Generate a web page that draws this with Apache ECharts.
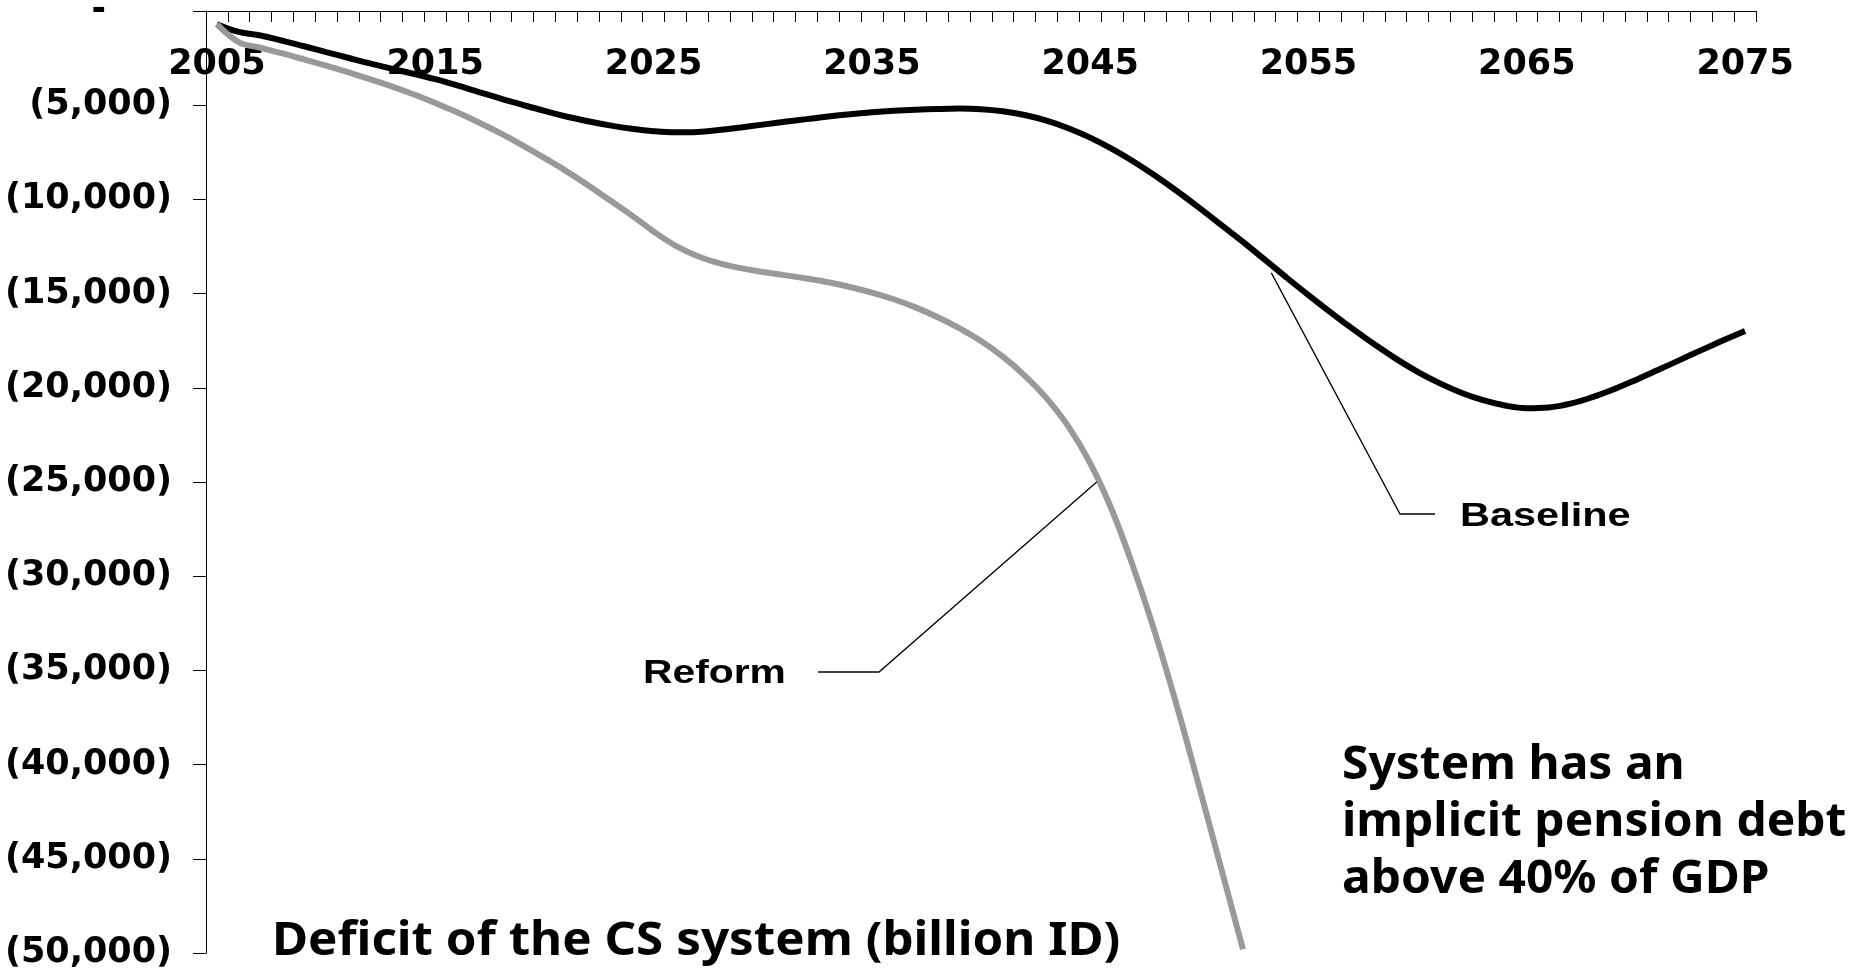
<!DOCTYPE html>
<html>
<head>
<meta charset="utf-8">
<title>Deficit of the CS system</title>
<script src="https://cdn.jsdelivr.net/npm/echarts@6/dist/echarts.min.js"></script>
<style>
  html, body { margin: 0; padding: 0; background: #ffffff; }
  #chart { width: 1857px; height: 969px; }
</style>
</head>
<body>
<div id="chart"></div>
<script>
// Projection years (one category per year)
const years = [
  '2005','2006','2007','2008','2009','2010','2011','2012','2013','2014',
  '2015','2016','2017','2018','2019','2020','2021','2022','2023','2024',
  '2025','2026','2027','2028','2029','2030','2031','2032','2033','2034',
  '2035','2036','2037','2038','2039','2040','2041','2042','2043','2044',
  '2045','2046','2047','2048','2049','2050','2051','2052','2053','2054',
  '2055','2056','2057','2058','2059','2060','2061','2062','2063','2064',
  '2065','2066','2067','2068','2069','2070','2071','2072','2073','2074',
  '2075'
];

// Deficit, billion ID — baseline scenario, 2005–2075
const baseline = [
  -700, -1110, -1300, -1580, -1870, -2180, -2480, -2780, -3060, -3330,
  -3620, -3950, -4300, -4650, -4980, -5300, -5600, -5850, -6070, -6250,
  -6380, -6440, -6420, -6320, -6180, -6030, -5880, -5740, -5600, -5480,
  -5380, -5300, -5240, -5200, -5180, -5210, -5320, -5520, -5820, -6220,
  -6720, -7320, -8000, -8760, -9580, -10450, -11350, -12250, -13200, -14150,
  -15080, -15980, -16850, -17680, -18450, -19150, -19750, -20260, -20660, -20940,
  -21080, -21040, -20840, -20500, -20070, -19580, -19060, -18530, -18000, -17480,
  -16980
];

// Deficit, billion ID — reform scenario, 2005–2052
const reform = [
  -700, -1650, -1950, -2250, -2570, -2900, -3250, -3620, -4000, -4420,
  -4880, -5380, -5920, -6500, -7130, -7800, -8500, -9250, -10050, -10850,
  -11700, -12450, -13000, -13380, -13650, -13850, -14020, -14200, -14400, -14650,
  -14950, -15300, -15730, -16240, -16830, -17520, -18350, -19350, -20550, -22050,
  -24000, -26500, -29600, -33100, -37000, -41200, -45500, -49800
];

// Value-axis tick labels, top (0) to bottom (-50,000)
const yTickLabels = [
  '-', '(5,000)', '(10,000)', '(15,000)', '(20,000)', '(25,000)',
  '(30,000)', '(35,000)', '(40,000)', '(45,000)', '(50,000)'
];

// Points on each curve where the callout leaders attach: [year, value]
const reformCallout = [2045.3, -25000];
const baselineCallout = [2053.3, -13900];

const chart = echarts.init(document.getElementById('chart'), null, { renderer: 'canvas' });

const axisFont = { fontFamily: 'DejaVu Sans', fontWeight: 'bold', fontSize: 35, color: '#000000' };

chart.setOption({
  animation: false,
  backgroundColor: '#ffffff',
  grid: { left: 206, right: 101, top: 11, bottom: 16, containLabel: false, outerBoundsMode: 'none' },
  xAxis: {
    type: 'category',
    data: years,
    position: 'top',
    boundaryGap: true,
    axisLine: { show: true, lineStyle: { color: '#000000', width: 1 } },
    axisTick: { show: true, inside: true, length: 11, interval: 0, lineStyle: { color: '#000000', width: 1 } },
    axisLabel: Object.assign({ inside: true, interval: 9, margin: 36 }, axisFont),
    splitLine: { show: false }
  },
  yAxis: {
    type: 'value',
    min: -50000,
    max: 0,
    interval: 5000,
    axisLine: { show: true, lineStyle: { color: '#000000', width: 1 } },
    axisTick: { show: true, length: 13, lineStyle: { color: '#000000', width: 1 } },
    axisLabel: Object.assign({
      margin: 34,
      formatter: function (v) {
        const label = yTickLabels[Math.round(-v / 5000)];
        return v === 0 ? '{z|' + label + '}' : label;
      },
      rich: { z: Object.assign({ padding: [0, 66, 0, 0] }, axisFont) }
    }, axisFont),
    splitLine: { show: false }
  },
  series: [
    {
      name: 'Baseline',
      type: 'line',
      data: baseline,
      smooth: 0.4,
      symbol: 'none',
      lineStyle: { color: '#000000', width: 6 },
      z: 2
    },
    {
      name: 'Reform',
      type: 'line',
      data: reform,
      smooth: 0.4,
      symbol: 'none',
      lineStyle: { color: '#999999', width: 6 },
      z: 3
    }
  ]
});

// Pixel position of a (fractional) year / value pair on the category grid
function toPixel(point) {
  const idx = point[0] - Number(years[0]);
  const i0 = Math.floor(idx);
  const f = idx - i0;
  const p0 = chart.convertToPixel({ gridIndex: 0 }, [i0, point[1]]);
  const p1 = chart.convertToPixel({ gridIndex: 0 }, [i0 + 1, point[1]]);
  return [p0[0] + (p1[0] - p0[0]) * f, p0[1]];
}

const reformAnchor = toPixel(reformCallout);
const baselineAnchor = toPixel(baselineCallout);

const leaderStyle = { stroke: '#000000', lineWidth: 1.3, fill: null };
const calloutFont = 'bold 34px "Liberation Sans", Arial, sans-serif';
const noteFont = 'bold 47px "Noto Sans", sans-serif';

chart.setOption({
  graphic: [
    {
      type: 'polyline',
      shape: { points: [[818, 672], [879, 672], reformAnchor] },
      style: leaderStyle,
      z: 10
    },
    {
      type: 'polyline',
      shape: { points: [baselineAnchor, [1400, 514], [1435, 514]] },
      style: leaderStyle,
      z: 10
    },
    {
      type: 'text',
      x: 643, y: 674, scaleX: 1.2,
      style: { text: 'Reform', font: calloutFont, fill: '#000000', verticalAlign: 'middle', align: 'left' },
      z: 10
    },
    {
      type: 'text',
      x: 1460, y: 517, scaleX: 1.22,
      style: { text: 'Baseline', font: calloutFont, fill: '#000000', verticalAlign: 'middle', align: 'left' },
      z: 10
    },
    {
      type: 'text',
      x: 272, y: 942, scaleX: 1.05,
      style: { text: 'Deficit of the CS system (billion ID)', font: noteFont, fill: '#000000', verticalAlign: 'middle', align: 'left' },
      z: 10
    },
    {
      type: 'text',
      x: 1342, y: 737, scaleX: 1.02,
      style: {
        text: 'System has an\nimplicit pension debt\nabove 40% of GDP',
        font: noteFont, lineHeight: 57, fill: '#000000', verticalAlign: 'top', align: 'left'
      },
      z: 10
    }
  ]
});
</script>
</body>
</html>
